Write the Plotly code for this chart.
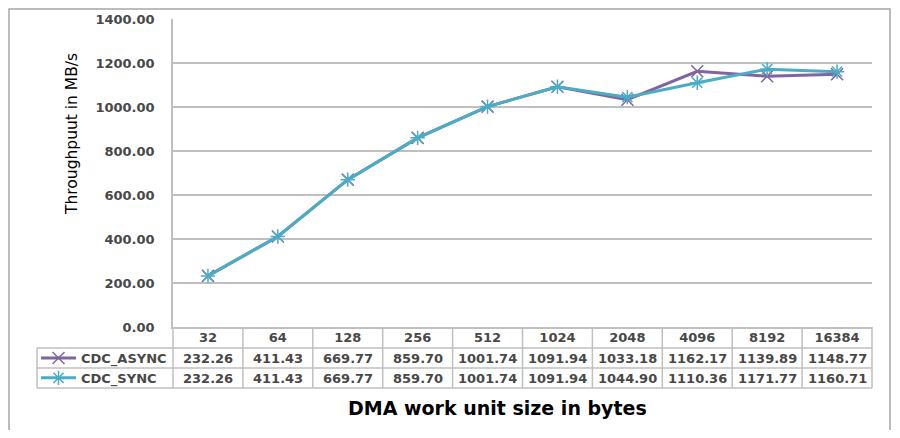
import plotly.graph_objects as go

# Werte aus der Tabelle unter dem Diagramm
sizes = ["32", "64", "128", "256", "512", "1024", "2048", "4096", "8192", "16384"]
cdc_async = [232.26, 411.43, 669.77, 859.70, 1001.74, 1091.94, 1033.18, 1162.17, 1139.89, 1148.77]
cdc_sync = [232.26, 411.43, 669.77, 859.70, 1001.74, 1091.94, 1044.90, 1110.36, 1171.77, 1160.71]
series = [("CDC_ASYNC", cdc_async), ("CDC_SYNC", cdc_sync)]

# Seite hat 8px Rand -> Figur etwas kleiner, Koordinaten in Seitenpixeln umrechnen
OFF = 8
W, H = 900 - 2 * OFF, 438 - 2 * OFF
def px(X):
    return (X - OFF) / W
def py(Y):
    return (H - (Y - OFF)) / H

xdom = [px(173), px(872)]
ydom = [py(327), py(19)]
row_lines = [348, 368, 388]
grid = "#BFBFBF"
txt = "#484848"
tick_font = dict(family="DejaVu Sans", size=13, color=txt, weight="bold")

fig = go.Figure()
fig.add_trace(go.Scatter(
    x=sizes, y=cdc_async, name="CDC_ASYNC", mode="lines+markers",
    line=dict(color="#8064A2", width=3),
    marker=dict(symbol="x-thin-open", size=12, line=dict(color="#B4A2CC", width=1.5)),
))
fig.add_trace(go.Scatter(
    x=sizes, y=cdc_sync, name="CDC_SYNC", mode="lines+markers",
    line=dict(color="#4BACC6", width=3),
    marker=dict(symbol="asterisk-open", size=12, line=dict(color="#8FD0E0", width=1.5)),
))

# Datentabelle unter der Achse
n = len(sizes)
shapes = []
for k in range(n + 1):
    xp = xdom[0] + k * (xdom[1] - xdom[0]) / n
    shapes.append(dict(type="line", xref="paper", yref="paper", x0=xp, x1=xp,
                       y0=py(327), y1=py(388), line=dict(color=grid, width=1.5)))
shapes.append(dict(type="line", xref="paper", yref="paper", x0=px(37), x1=px(37),
                   y0=py(348), y1=py(388), line=dict(color=grid, width=1.5)))
for Y in row_lines:
    shapes.append(dict(type="line", xref="paper", yref="paper", x0=px(37), x1=xdom[1],
                       y0=py(Y), y1=py(Y), line=dict(color=grid, width=1.5)))
# Rahmen
shapes.append(dict(type="path", xref="paper", yref="paper",
                   path=f"M {px(9)},{py(431)} L {px(9)},{py(9)} L {px(890)},{py(9)} L {px(890)},{py(431)}",
                   line=dict(color="#A6A6A6", width=1.5)))

annotations = []
for r, (name, vals) in enumerate(series):
    yc = py(358 + 20 * r)
    for k, v in enumerate(vals):
        annotations.append(dict(x=k, y=yc, xref="x", yref="paper", text=f"{v:.2f}",
                                xanchor="center", yanchor="middle",
                                showarrow=False, font=tick_font))

annotations.append(dict(x=px(497), y=py(408), xref="paper", yref="paper",
                        xanchor="center", yanchor="middle",
                        text="<b>DMA work unit size in bytes</b>", showarrow=False,
                        font=dict(family="DejaVu Sans", size=19, color="black")))
annotations.append(dict(x=px(72), y=py(134), xref="paper", yref="paper",
                        xanchor="center", yanchor="middle",
                        text="Throughpuut in MB/s", textangle=-90, showarrow=False,
                        font=dict(family="DejaVu Sans", size=15.5, color="black")))

fig.update_layout(
    width=W, height=H,
    margin=dict(l=0, r=0, t=0, b=0),
    paper_bgcolor="white", plot_bgcolor="white",
    shapes=shapes, annotations=annotations,
    legend=dict(x=px(36), y=py(343), xanchor="left", yanchor="top",
                font=tick_font, bgcolor="rgba(0,0,0,0)", borderwidth=0,
                tracegroupgap=0, itemwidth=35),
    xaxis=dict(domain=xdom, type="category", range=[-0.5, n - 0.5], automargin=False,
               showgrid=False, showline=True, linecolor=grid, linewidth=1.5,
               ticks="", tickfont=tick_font, ticklabelstandoff=-2, fixedrange=True),
    yaxis=dict(domain=ydom, range=[0, 1400], dtick=200, tickformat=".2f", automargin=False,
               showgrid=True, gridcolor=grid, gridwidth=1.5,
               showline=True, linecolor=grid, linewidth=1.5,
               zeroline=False, ticks="", tickfont=tick_font, ticklabelstandoff=14),
)

fig.write_html("out.html")
